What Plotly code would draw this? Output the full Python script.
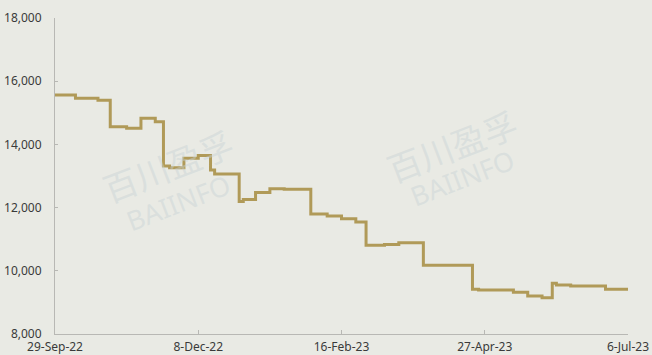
import plotly.graph_objects as go

# Price change points (the series is flat between consecutive dates)
dates = [
    "2022-09-29", "2022-10-09", "2022-10-20", "2022-10-26", "2022-11-03",
    "2022-11-10", "2022-11-17", "2022-11-21", "2022-11-24", "2022-12-01",
    "2022-12-08", "2022-12-14", "2022-12-16", "2022-12-28", "2022-12-30",
    "2023-01-05", "2023-01-12", "2023-01-19", "2023-02-01", "2023-02-09",
    "2023-02-16", "2023-02-23", "2023-02-28", "2023-03-09", "2023-03-16",
    "2023-03-28", "2023-04-21", "2023-04-24", "2023-05-11", "2023-05-18",
    "2023-05-25", "2023-05-30", "2023-06-01", "2023-06-08", "2023-06-25",
    "2023-07-06",
]
prices = [
    15560, 15460, 15400, 14560, 14510,
    14830, 14720, 13320, 13260, 13560,
    13650, 13190, 13065, 12190, 12260,
    12480, 12600, 12580, 11800, 11735,
    11650, 11545, 10810, 10830, 10890,
    10175, 9415, 9390, 9320, 9200,
    9150, 9605, 9550, 9520, 9415,
    9415,
]

tick_dates = ["2022-09-29", "2022-12-08", "2023-02-16", "2023-04-27", "2023-07-06"]
y_ticks = [8000, 10000, 12000, 14000, 16000, 18000]

bg = "#e9eae4"
line_color = "#b09a58"
axis_color = "#b8b8b4"
text_color = "#3a3a3a"

fig = go.Figure()
fig.add_trace(go.Scatter(
    x=dates, y=prices, mode="lines", line_shape="hv",
    line=dict(color=line_color, width=3), hoverinfo="skip",
))

# Faint brand watermark
wm_color = "rgba(200,210,212,0.45)"
wm_font_cjk = dict(family="Noto Sans CJK SC", size=34, color=wm_color)
wm_font_lat = dict(family="Noto Sans", size=27, color=wm_color)
for (xc, yc, xl, yl) in [(0.197, 0.532, 0.215, 0.415), (0.693, 0.595, 0.712, 0.494)]:
    fig.add_annotation(x=xc, y=yc, xref="paper", yref="paper", text="百川盈孚",
                       xanchor="center", yanchor="middle",
                       showarrow=False, textangle=-21, font=wm_font_cjk)
    fig.add_annotation(x=xl, y=yl, xref="paper", yref="paper", text="BAIINFO",
                       xanchor="center", yanchor="middle",
                       showarrow=False, textangle=-21, font=wm_font_lat)

fig.update_layout(
    width=652, height=355,
    margin=dict(l=55, r=24, t=18, b=21),
    paper_bgcolor=bg, plot_bgcolor=bg,
    showlegend=False,
    font=dict(family="Noto Sans", size=12, color=text_color),
)
fig.update_xaxes(
    type="date", range=["2022-09-29", "2023-07-06"],
    tickvals=tick_dates, tickformat="%-d-%b-%y",
    showgrid=False, zeroline=False, automargin=False,
    showline=True, linecolor=axis_color, linewidth=1,
    ticks="inside", ticklen=4, tickcolor=axis_color,
    ticklabelstandoff=2,
    tickfont=dict(size=12, color=text_color),
)
fig.update_yaxes(
    range=[8000, 18000], tickvals=y_ticks, tickformat=",",
    showgrid=False, zeroline=False, automargin=False,
    showline=True, linecolor=axis_color, linewidth=1,
    ticks="inside", ticklen=3, tickcolor=axis_color,
    ticklabelstandoff=10,
    tickfont=dict(size=12, color=text_color),
)

fig.write_html("out.html")
